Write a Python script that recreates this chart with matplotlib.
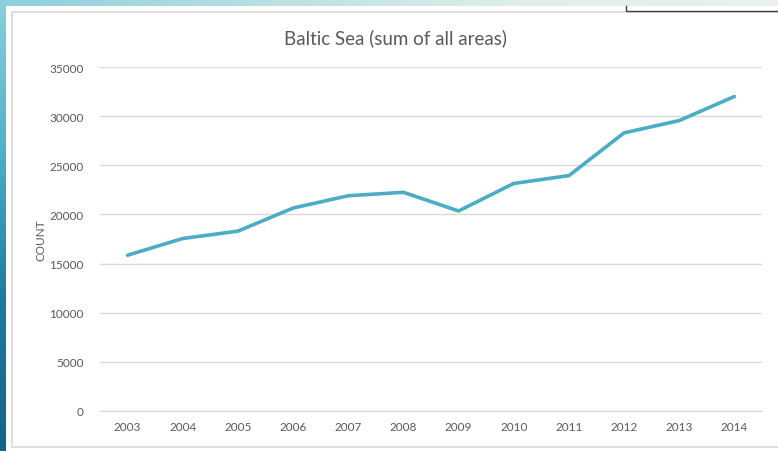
import numpy as np
import matplotlib
matplotlib.use("Agg")
import matplotlib.pyplot as plt
from matplotlib.patches import Rectangle

# Data
years = ["2003", "2004", "2005", "2006", "2007", "2008",
         "2009", "2010", "2011", "2012", "2013", "2014"]
counts = [15850, 17550, 18300, 20650, 21900, 22250,
          20350, 23150, 23950, 28300, 29550, 32000]
y_ticks = [0, 5000, 10000, 15000, 20000, 25000, 30000, 35000]

plt.rcParams["font.family"] = ["Lato", "DejaVu Sans"]

W, H = 778, 452
fig = plt.figure(figsize=(W / 100, H / 100), dpi=100)
fig.patch.set_facecolor("white")

# Background decoration (slide frame)
bg = fig.add_axes([0, 0, 1, 1], zorder=-10)
bg.set_xlim(0, W)
bg.set_ylim(H, 0)
bg.axis("off")
# left vertical strip: light teal at top -> deep blue at bottom
grad_v = np.linspace(0, 1, 256).reshape(-1, 1)
left_cmap = matplotlib.colors.LinearSegmentedColormap.from_list(
    "lv", ["#8ccfdc", "#4fb0c8", "#1e7aa0", "#16628a"])
bg.imshow(grad_v, extent=[0, 6, H, 0], cmap=left_cmap, aspect="auto")
# top strip: teal at left -> pale at right
grad_h = np.linspace(0, 1, 256).reshape(1, -1)
top_cmap = matplotlib.colors.LinearSegmentedColormap.from_list(
    "th", ["#8ccfdc", "#b9dfe2", "#dfeee9", "#eaf2ec"])
bg.imshow(grad_h, extent=[0, W, 7, 0], cmap=top_cmap, aspect="auto")
# card border
bg.add_patch(Rectangle((12, 13), W - 8, H - 17, fill=False,
                       edgecolor="#d9d9d9", linewidth=1.2))
# small dark box edge at top right
bg.plot([626, 626, W], [7, 12, 12], color="#404040", linewidth=1.0)

# Chart axes
left, right = 100 / W, 762 / W
bottom, top = (H - 412) / H, (H - 68) / H
ax = fig.add_axes([left, bottom, right - left, top - bottom])
ax.set_facecolor("none")

x = np.arange(len(years))
ax.plot(x, counts, color="#4bacc6", linewidth=2.6, solid_capstyle="round",
        solid_joinstyle="round", zorder=3)

ax.set_xlim(-0.5, len(years) - 0.5)
ax.set_ylim(0, 35000)
ax.set_yticks(y_ticks)
ax.set_yticklabels([str(v) for v in y_ticks])
ax.set_xticks(x)
ax.set_xticklabels(years)
ax.grid(axis="y", color="#d9d9d9", linewidth=1.0)
ax.set_axisbelow(True)
for s in ax.spines.values():
    s.set_visible(False)
ax.spines["bottom"].set_visible(True)
ax.spines["bottom"].set_color("#d9d9d9")
ax.tick_params(axis="both", length=0, labelsize=8.5, colors="#595959")
ax.tick_params(axis="y", pad=12)
ax.tick_params(axis="x", pad=7)

fig.text(41 / W, 1 - 240 / H, "COUNT", fontsize=8.5, color="#595959",
         rotation=90, ha="center", va="center")
fig.text(395 / W, 1 - 38 / H, "Baltic Sea (sum of all areas)", fontsize=13.5,
         color="#595959", ha="center", va="center")

fig.savefig("out.png", dpi=100)
